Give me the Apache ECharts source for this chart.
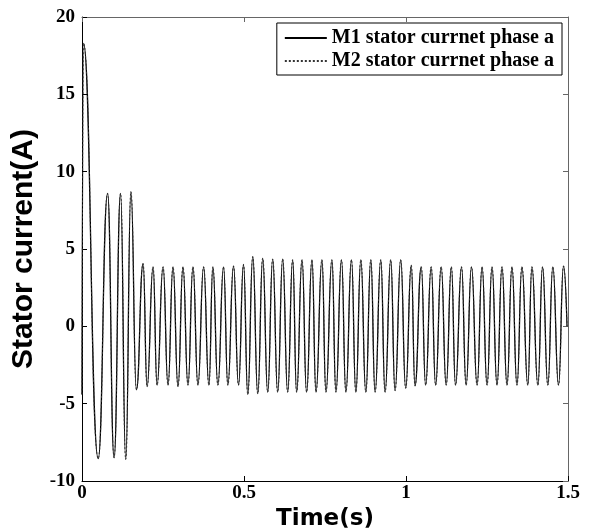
<!DOCTYPE html>
<html>
<head>
<meta charset="utf-8">
<script src="https://cdn.jsdelivr.net/npm/echarts@6/dist/echarts.min.js"></script>
<style>
html,body{margin:0;padding:0;background:#fff;}
#chart{width:596px;height:530px;}
</style>
</head>
<body>
<div id="chart"></div>
<script>
// Time (s) of the turning points
const timeS = [
  0, 0.0046, 0.050, 0.079, 0.099, 0.119, 0.135, 0.151, 0.168,
  0.1886, 0.2009, 0.2194, 0.2317, 0.2502, 0.2655, 0.2809, 0.2963, 0.3117, 0.3271,
  0.3425, 0.3578, 0.3754, 0.3917, 0.4040, 0.4194, 0.4369, 0.4502, 0.4677, 0.4831,
  0.4985, 0.5117, 0.5271, 0.5425, 0.5578, 0.5732, 0.5886, 0.6040, 0.6194, 0.6348,
  0.6502, 0.6625, 0.6791, 0.6932, 0.7098, 0.7222, 0.7406, 0.7529, 0.7714, 0.7837,
  0.8009, 0.8145, 0.8317, 0.8452, 0.8606, 0.8760, 0.8914, 0.9046, 0.9222, 0.9354,
  0.9529, 0.9662, 0.9837, 0.9991, 1.0163, 1.0277, 1.0471, 1.0606, 1.0778, 1.0914,
  1.1086, 1.1240, 1.1400, 1.1529, 1.1714, 1.1855, 1.2022, 1.2194, 1.2348, 1.2502,
  1.2655, 1.2809, 1.2963, 1.3117, 1.3271, 1.3425, 1.3578, 1.3760, 1.3886, 1.4071,
  1.4215, 1.4378, 1.4532, 1.4708, 1.4862, 1.497
];
// M1 stator current phase a (A)
const m1Current = [
  -4.4, 18.3, -8.55, 8.6, -8.5, 8.6, -8.6, 8.7, -4.1,
  4.05, -3.9, 3.85, -3.8, 3.85, -3.8, 3.85, -3.9, 3.85, -3.8,
  3.85, -3.8, 3.85, -3.8, 3.85, -3.8, 3.85, -3.8, 3.9, -3.8,
  4.0, -4.4, 4.5, -4.35, 4.4, -4.25, 4.35, -4.25, 4.35, -4.25,
  4.3, -4.25, 4.3, -4.25, 4.3, -4.25, 4.3, -4.25, 4.3, -4.25,
  4.3, -4.25, 4.3, -4.25, 4.3, -4.25, 4.3, -4.25, 4.3, -4.25,
  4.3, -4.15, 4.3, -4.0, 3.95, -3.85, 3.85, -3.8, 3.85, -3.8,
  3.85, -3.8, 3.85, -3.8, 3.85, -3.8, 3.85, -3.8, 3.85, -3.8,
  3.85, -3.8, 3.85, -3.8, 3.85, -3.8, 3.85, -3.8, 3.85, -3.8,
  3.85, -3.8, 3.85, -3.8, 3.9, 0
];
// M2 stator current phase a (A) - overlaps M1 in the reference
const m2Current = [
  -4.4, 18.3, -8.55, 8.6, -8.5, 8.6, -8.6, 8.7, -4.1,
  4.05, -3.9, 3.85, -3.8, 3.85, -3.8, 3.85, -3.9, 3.85, -3.8,
  3.85, -3.8, 3.85, -3.8, 3.85, -3.8, 3.85, -3.8, 3.9, -3.8,
  4.0, -4.4, 4.5, -4.35, 4.4, -4.25, 4.35, -4.25, 4.35, -4.25,
  4.3, -4.25, 4.3, -4.25, 4.3, -4.25, 4.3, -4.25, 4.3, -4.25,
  4.3, -4.25, 4.3, -4.25, 4.3, -4.25, 4.3, -4.25, 4.3, -4.25,
  4.3, -4.15, 4.3, -4.0, 3.95, -3.85, 3.85, -3.8, 3.85, -3.8,
  3.85, -3.8, 3.85, -3.8, 3.85, -3.8, 3.85, -3.8, 3.85, -3.8,
  3.85, -3.8, 3.85, -3.8, 3.85, -3.8, 3.85, -3.8, 3.85, -3.8,
  3.85, -3.8, 3.85, -3.8, 3.9, 0
];
const seriesNames = ['M1 stator currnet phase a', 'M2 stator currnet phase a'];
const xTicks = [0, 0.5, 1, 1.5];
const yTicks = [-10, -5, 0, 5, 10, 15, 20];

const serif = '"Liberation Serif", "Times New Roman", serif';
const sans = '"Liberation Sans", Arial, sans-serif';

function pairs(xs, ys) { return xs.map((x, i) => [x, ys[i]]); }

const chart = echarts.init(document.getElementById('chart'), null, {renderer: 'canvas'});
const labelStyle = {fontFamily: serif, fontWeight: 'bold', fontSize: 19, color: '#000'};
chart.setOption({
  animation: false,
  backgroundColor: '#fff',
  grid: {left: 82, right: 28, top: 17, bottom: 49, containLabel: false, outerBoundsMode: 'none'},
  legend: {
    orient: 'vertical', right: 34, top: 23,
    data: seriesNames,
    itemWidth: 42, itemHeight: 14, itemGap: 3,
    padding: [5, 8, 4, 7],
    borderColor: '#000', borderWidth: 1, backgroundColor: '#fff',
    itemStyle: {opacity: 0},
    textStyle: {fontFamily: serif, fontWeight: 'bold', fontSize: 20, color: '#000', lineHeight: 20}
  },
  xAxis: [{
    type: 'value', min: xTicks[0], max: xTicks[xTicks.length - 1], interval: 0.5,
    name: 'Time(s)', nameLocation: 'middle', nameGap: 25,
    nameTextStyle: {fontFamily: '"DejaVu Sans", sans-serif', fontWeight: 'bold', fontSize: 23, color: '#000'},
    axisLine: {show: true, onZero: false, lineStyle: {color: '#000', width: 1}},
    axisTick: {show: true, inside: true, length: 5, lineStyle: {color: '#000'}},
    axisLabel: Object.assign({margin: 3, formatter: v => String(v)}, labelStyle),
    splitLine: {show: false}
  }, {
    type: 'value', position: 'top', min: 0, max: 1.5, interval: 0.5,
    axisLine: {show: true, onZero: false, lineStyle: {color: '#666', width: 1}},
    axisTick: {show: true, inside: true, length: 5, lineStyle: {color: '#666'}},
    axisLabel: {show: false}, splitLine: {show: false}
  }],
  yAxis: [{
    type: 'value', min: yTicks[0], max: yTicks[yTicks.length - 1], interval: 5,
    name: 'Stator current(A)', nameLocation: 'middle', nameGap: 38, nameRotate: 90,
    nameTextStyle: {fontFamily: sans, fontWeight: 'bold', fontSize: 30, color: '#000'},
    axisLine: {show: true, onZero: false, lineStyle: {color: '#000', width: 1}},
    axisTick: {show: true, inside: true, length: 5, lineStyle: {color: '#000'}},
    axisLabel: Object.assign({margin: 7}, labelStyle),
    splitLine: {show: false}
  }, {
    type: 'value', position: 'right', min: -10, max: 20, interval: 5,
    axisLine: {show: true, onZero: false, lineStyle: {color: '#666', width: 1}},
    axisTick: {show: true, inside: true, length: 5, lineStyle: {color: '#666'}},
    axisLabel: {show: false}, splitLine: {show: false}
  }],
  series: [{
    name: seriesNames[0], type: 'line', xAxisIndex: 0, yAxisIndex: 0,
    data: pairs(timeS, m1Current),
    symbol: 'none', smooth: true, smoothMonotone: 'x',
    lineStyle: {color: '#000', width: 1.3, type: 'solid'},
    itemStyle: {color: '#000'}
  }, {
    name: seriesNames[1], type: 'line', xAxisIndex: 0, yAxisIndex: 0,
    data: pairs(timeS, m2Current),
    symbol: 'none', smooth: true, smoothMonotone: 'x',
    lineStyle: {color: '#333', width: 1, type: [2, 2]},
    itemStyle: {color: '#000'}
  }]
});
</script>
</body>
</html>
